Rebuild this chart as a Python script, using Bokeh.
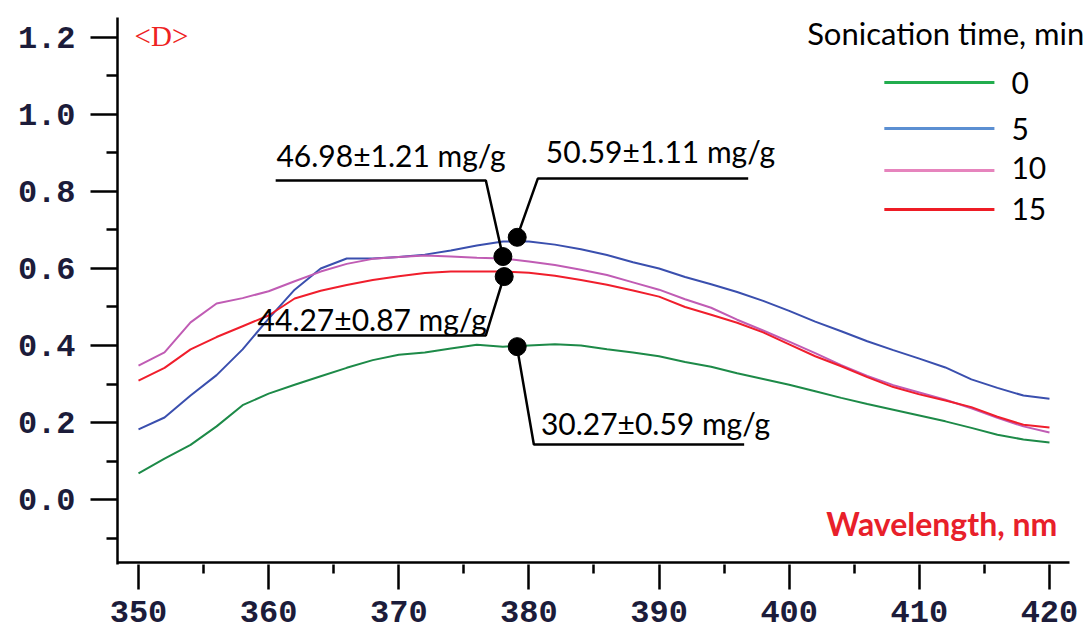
from bokeh.plotting import figure
from bokeh.models import Range1d, FixedTicker, Label
from bokeh.embed import file_html
from bokeh.resources import INLINE

# ---------------- data ----------------
wavelength = list(range(350, 421, 2))

abs_0min = [0.068, 0.106, 0.142, 0.190, 0.245, 0.275, 0.298, 0.320, 0.342, 0.362,
            0.376, 0.382, 0.392, 0.402, 0.397, 0.400, 0.403, 0.400, 0.390, 0.382,
            0.372, 0.357, 0.345, 0.328, 0.313, 0.298, 0.281, 0.264, 0.248, 0.233,
            0.218, 0.203, 0.186, 0.168, 0.156, 0.148]
abs_5min = [0.182, 0.213, 0.270, 0.323, 0.390, 0.470, 0.545, 0.600, 0.626, 0.626,
            0.630, 0.636, 0.647, 0.660, 0.670, 0.670, 0.662, 0.650, 0.635, 0.616,
            0.600, 0.578, 0.559, 0.539, 0.516, 0.490, 0.462, 0.437, 0.411, 0.388,
            0.366, 0.343, 0.312, 0.290, 0.270, 0.262]
abs_10min = [0.348, 0.382, 0.460, 0.509, 0.523, 0.541, 0.567, 0.592, 0.612, 0.625,
             0.630, 0.634, 0.631, 0.628, 0.626, 0.618, 0.609, 0.597, 0.583, 0.564,
             0.545, 0.520, 0.498, 0.467, 0.439, 0.410, 0.380, 0.349, 0.321, 0.297,
             0.278, 0.259, 0.237, 0.212, 0.190, 0.174]
abs_15min = [0.309, 0.342, 0.390, 0.422, 0.450, 0.478, 0.522, 0.542, 0.557, 0.570,
             0.580, 0.588, 0.592, 0.592, 0.592, 0.589, 0.581, 0.570, 0.558, 0.543,
             0.527, 0.500, 0.480, 0.459, 0.434, 0.403, 0.372, 0.346, 0.318, 0.292,
             0.273, 0.257, 0.240, 0.215, 0.194, 0.187]

series_names = ["0", "5", "10", "15"]
series_values = [abs_0min, abs_5min, abs_10min, abs_15min]

# marked points and their sorption capacities
marked_wl = [379.1, 378.0, 378.1, 379.1]
marked_abs = [0.681, 0.631, 0.579, 0.397]
marked_text = ["50.59±1.11 mg/g", "46.98±1.21 mg/g", "44.27±0.87 mg/g", "30.27±0.59 mg/g"]

x_ticks = [350, 360, 370, 380, 390, 400, 410, 420]
x_tick_labels = ["350", "360", "370", "380", "390", "400", "410", "420"]
x_minor = [355, 365, 375, 385, 395, 405, 415]
y_ticks = [0.0, 0.2, 0.4, 0.6, 0.8, 1.0, 1.2]
y_tick_labels = ["0.0", "0.2", "0.4", "0.6", "0.8", "1.0", "1.2"]
y_minor = [-0.1, 0.1, 0.3, 0.5, 0.7, 0.9, 1.1]

# ---------------- styles ----------------
line_colors = ["#1d8a48", "#3a4fae", "#c05cb4", "#f01e2c"]
legend_colors = ["#22ad4e", "#5b8fd2", "#e684bd", "#ee1c25"]
TEXT_FONT = "Lato"

X_AXIS_START, X_AXIS_END = 348.386, 421.54
Y_AXIS_BASE = -0.1636

p = figure(width=1091, height=635, output_backend="svg", toolbar_location=None,
           x_range=Range1d(X_AXIS_START, 423.23), y_range=Range1d(-0.1688, 1.2519),
           min_border_left=117, min_border_right=0, min_border_top=17,
           min_border_bottom=71)
p.outline_line_color = None
p.xgrid.visible = False
p.ygrid.visible = False
p.background_fill_color = "white"
p.border_fill_color = "white"

for ax, ticks, minor, labels in ((p.xaxis[0], x_ticks, x_minor, x_tick_labels),
                                 (p.yaxis[0], y_ticks, y_minor, y_tick_labels)):
    ax.ticker = FixedTicker(ticks=ticks, minor_ticks=minor)
    ax.major_label_overrides = {t: l for t, l in zip(ticks, labels)}
    ax.axis_line_width = 2.5
    ax.axis_line_color = "black"
    ax.major_tick_line_width = 2.5
    ax.minor_tick_line_width = 2.5
    ax.major_tick_out = 27
    ax.major_tick_in = 0
    ax.minor_tick_out = 11
    ax.minor_tick_in = 0
    ax.major_label_text_font = "Liberation Mono"
    ax.major_label_text_font_style = "bold"
    ax.major_label_text_font_size = "32px"
    ax.major_label_text_color = "#1c1c3a"
p.xaxis[0].axis_line_color = None
p.xaxis[0].major_tick_out = 25
p.xaxis[0].minor_tick_out = 9
p.xaxis[0].major_label_standoff = 11
p.yaxis[0].major_label_standoff = 15

# bottom axis line, ending where the reference's axis ends
p.line([X_AXIS_START, X_AXIS_END], [Y_AXIS_BASE, Y_AXIS_BASE],
       line_color="black", line_width=2.5)

for vals, col in zip(series_values, line_colors):
    p.line(wavelength, vals, line_color=col, line_width=2)

# leader lines (annotation layout)
leaders = [
    ([379.08, 380.69, 396.85], [0.681, 0.834, 0.834]),
    ([378.0, 376.69, 360.54], [0.631, 0.8286, 0.8286]),
    ([378.08, 376.69, 359.15], [0.579, 0.426, 0.426]),
    ([379.08, 380.38, 396.54], [0.397, 0.143, 0.143]),
]
for lx, ly in leaders:
    p.line(lx, ly, line_color="black", line_width=2.5)

p.scatter(marked_wl, marked_abs, size=18, color="black")

text_pos = [(381.3, 0.906), (360.6, 0.8935), (359.15, 0.470), (380.92, 0.200)]
for (tx, ty), txt in zip(text_pos, marked_text):
    p.add_layout(Label(x=tx, y=ty, text=txt, text_font=TEXT_FONT,
                       text_font_size="30px", text_color="black",
                       text_baseline="middle", text_align="left"))

# corner tag
p.add_layout(Label(x=349.7, y=1.203, text="<D>", text_font="Liberation Serif",
                   text_font_size="29px", text_color="#ee2222",
                   text_baseline="middle", text_align="left"))

# axis caption
p.add_layout(Label(x=402.85, y=-0.0623, text="Wavelength, nm", text_font=TEXT_FONT,
                   text_font_style="bold", text_font_size="32px", text_color="#e8202a",
                   text_baseline="middle", text_align="left"))

# legend
p.add_layout(Label(x=401.38, y=1.2104, text="Sonication time, min", text_font=TEXT_FONT,
                   text_font_size="31px", text_color="black",
                   text_baseline="middle", text_align="left"))
legend_y = [1.0831, 0.9636, 0.8545, 0.7532]
label_y = [1.0805, 0.9636, 0.8623, 0.7558]
for name, col, ly, ty in zip(series_names, legend_colors, legend_y, label_y):
    p.line([407.31, 415.77], [ly, ly], line_color=col, line_width=3)
    p.add_layout(Label(x=417.08, y=ty, text=name, text_font=TEXT_FONT,
                       text_font_size="30px", text_color="black",
                       text_baseline="middle", text_align="left"))

open("out.html", "w").write(file_html(p, INLINE))
